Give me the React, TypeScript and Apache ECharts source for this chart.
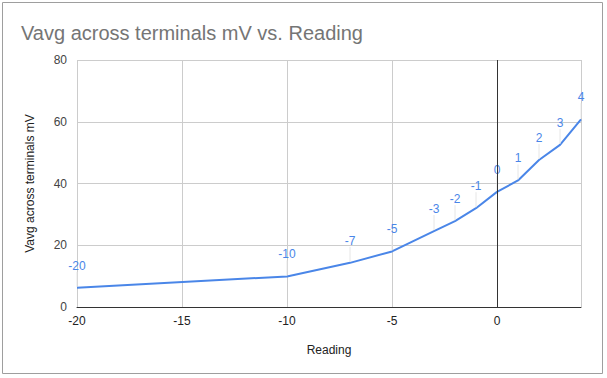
import React, { useEffect, useRef } from "react";
import * as echarts from "echarts";

const readings = [-20, -10, -7, -5, -3, -2, -1, 0, 1, 2, 3, 4];
const vavg = [6.2, 9.9, 14.3, 18.0, 24.6, 27.8, 32.0, 37.3, 41.0, 47.6, 52.5, 60.8];
const titleText = "Vavg across terminals mV vs. Reading";
const xName = "Reading";
const yName = "Vavg across terminals mV";

const FONT = "'Liberation Sans', Arial, sans-serif";

export default function App() {
  const ref = useRef<HTMLDivElement>(null);
  useEffect(() => {
    if (!ref.current) return;
    const chart = echarts.init(ref.current, undefined, { renderer: "svg" });
    const data = readings.map((r, i) => [r, vavg[i]]);
    chart.setOption({
      animation: false,
      backgroundColor: "#ffffff",
      textStyle: { fontFamily: FONT },
      title: {
        text: titleText,
        left: 16,
        top: 18,
        textStyle: { fontSize: 20, fontWeight: "normal", color: "#757575", fontFamily: FONT },
      },
      graphic: [
        {
          type: "rect",
          shape: { x: 2.5, y: 2.5, width: 600, height: 371 },
          style: { fill: "none", stroke: "#9e9e9e", lineWidth: 1 },
          silent: true,
        },
      ],
      grid: { left: 77, right: 26, top: 60, bottom: 71, containLabel: false },
      xAxis: {
        type: "value",
        min: -20,
        max: 4,
        interval: 5,
        name: xName,
        nameLocation: "middle",
        nameGap: 37,
        nameTextStyle: { color: "#222", fontSize: 12, fontFamily: FONT },
        axisLine: { show: true, lineStyle: { color: "#333", width: 1 } },
        axisTick: { show: false },
        axisLabel: { color: "#222", fontSize: 12, margin: 8, showMaxLabel: false, fontFamily: FONT },
        splitLine: { show: true, lineStyle: { color: "#cccccc", width: 1 } },
      },
      yAxis: {
        type: "value",
        min: 0,
        max: 80,
        interval: 20,
        name: yName,
        nameLocation: "middle",
        nameRotate: 90,
        nameGap: 41,
        nameTextStyle: { color: "#222", fontSize: 12, fontFamily: FONT },
        axisLine: { show: false },
        axisTick: { show: false },
        axisLabel: { color: "#444", fontSize: 12, margin: 10, fontFamily: FONT },
        splitLine: { show: true, lineStyle: { color: "#cccccc", width: 1 } },
      },
      series: [
        {
          type: "line",
          data,
          symbol: "circle",
          symbolSize: 2,
          showSymbol: true,
          itemStyle: { color: "rgba(0,0,0,0)" },
          lineStyle: { color: "#4a86e8", width: 2 },
          label: {
            show: true,
            position: "top",
            distance: 3,
            color: "#4a86e8",
            fontSize: 12,
            fontFamily: FONT,
            formatter: (p: any) => String(p.value[0]),
          },
          labelLayout: { dy: -12 },
          labelLine: { show: true, lineStyle: { color: "#e6e6e6", width: 1 } },
          markLine: {
            silent: true,
            symbol: "none",
            label: { show: false },
            lineStyle: { color: "#333", type: "solid", width: 1 },
            data: [{ xAxis: 0 }],
          },
        },
      ],
    });
    return () => chart.dispose();
  }, []);
  return (
    <div
      ref={ref}
      style={{ position: "fixed", left: 0, top: 0, width: 607, height: 378 }}
    />
  );
}
